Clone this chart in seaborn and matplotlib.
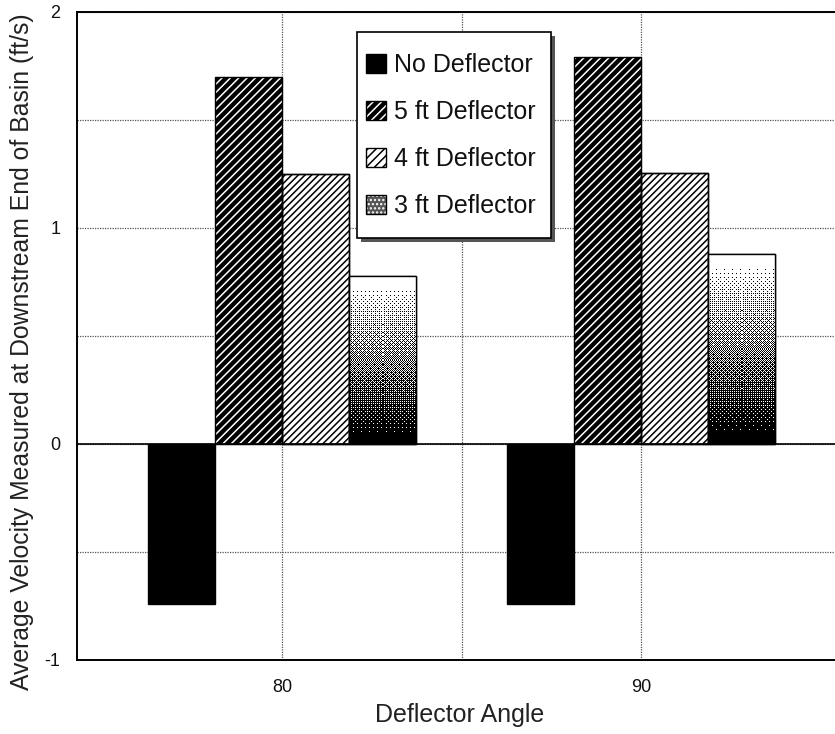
import numpy as np
import pandas as pd
import matplotlib
matplotlib.use("Agg")
import matplotlib.pyplot as plt
from matplotlib.patches import Patch, Rectangle
from matplotlib.transforms import IdentityTransform
import seaborn as sns

# ---- data ----
angles = ["80", "90"]
deflectors = ["No Deflector", "5 ft Deflector", "4 ft Deflector", "3 ft Deflector"]
no_deflector = [-0.74, -0.74]
ft5 = [1.70, 1.79]
ft4 = [1.25, 1.255]
ft3 = [0.78, 0.88]

df = pd.DataFrame({
    "angle": angles * 4,
    "deflector": [d for d in deflectors for _ in angles],
    "velocity": no_deflector + ft5 + ft4 + ft3,
})

sns.set_theme(style="white")
plt.rcParams["font.family"] = ["Liberation Sans", "DejaVu Sans"]
plt.rcParams["hatch.linewidth"] = 1.1

fig = plt.figure(figsize=(8.35, 7.34), dpi=100)
ax = fig.add_axes([77 / 835, (734 - 660) / 734, 769 / 835, 648 / 734])

palette = {"No Deflector": "black", "5 ft Deflector": "black",
           "4 ft Deflector": "white", "3 ft Deflector": "white"}
sns.barplot(data=df, x="angle", y="velocity", hue="deflector", hue_order=deflectors,
            order=angles, palette=palette, width=0.747, gap=0, dodge=True,
            edgecolor="black", linewidth=1.0, legend=False, errorbar=None, ax=ax)

XLIM = (-0.571, 1.571)
YLIM = (-1, 2)
ax.set_xlim(*XLIM)
ax.set_ylim(*YLIM)

def outline(p):
    r = Rectangle((p.get_x(), p.get_y()), p.get_width(), p.get_height(),
                  fill=False, edgecolor="black", linewidth=1.0, zorder=p.get_zorder() + 0.5)
    ax.add_patch(r)

for p in ax.containers[1]:
    p.set_hatch("////")
    p.set_edgecolor("white")
    p.set_linewidth(0)
    outline(p)
for p in ax.containers[2]:
    p.set_hatch("/////")
    p.set_edgecolor("black")
    p.set_facecolor("white")
    outline(p)

# 3 ft: dithered gradient texture (pixel aligned)
fig.canvas.draw()
b8 = np.array([[0, 32, 8, 40, 2, 34, 10, 42],
               [48, 16, 56, 24, 50, 18, 58, 26],
               [12, 44, 4, 36, 14, 46, 6, 38],
               [60, 28, 52, 20, 62, 30, 54, 22],
               [3, 35, 11, 43, 1, 33, 9, 41],
               [51, 19, 59, 27, 49, 17, 57, 25],
               [15, 47, 7, 39, 13, 45, 5, 37],
               [63, 31, 55, 23, 61, 29, 53, 21]]) / 64.0
for p in ax.containers[3]:
    bb = p.get_window_extent()
    nr = max(int(round(bb.height)), 8)
    nc = max(int(round(bb.width)), 8)
    t = np.linspace(0, 1, nr)[:, None]
    dark = np.clip((t - 0.06) / 0.9, 0, 1)
    thr = np.tile(b8, (nr // 8 + 1, nc // 8 + 1))[:nr, :nc]
    img = np.where(dark > thr, 0.0, 1.0)
    x0, y0, w, h = p.get_x(), p.get_y(), p.get_width(), p.get_height()
    im = ax.imshow(img, cmap="gray", vmin=0, vmax=1, extent=(x0, x0 + w, y0, y0 + h),
                   origin="upper", interpolation="nearest", aspect="auto",
                   zorder=p.get_zorder() + 0.1)
    im.set_clip_path(p)
    outline(p)

ax.set_xlim(*XLIM)
ax.set_ylim(*YLIM)
ax.set_aspect("auto")

ax.axhline(0, color="black", linewidth=1.2, zorder=5)

ax.set_xticks([0, 1])
ax.set_xticklabels(angles)
ax.set_xticks([0.5], minor=True)
ax.set_yticks([-1, 0, 1, 2])
ax.set_yticklabels(["-1", "0", "1", "2"])
ax.set_yticks([-0.5, 0.5, 1.5], minor=True)
ax.tick_params(axis="both", which="major", direction="in", length=7, width=1.5,
               color="black", labelsize=13, labelcolor="#111")
ax.tick_params(axis="x", which="major", pad=14)
ax.tick_params(axis="y", which="major", pad=12)
ax.tick_params(which="minor", length=0)
ax.set_axisbelow(True)
ax.grid(True, which="both", color="#555555", linestyle=(0, (1, 1)), linewidth=0.9)

for s in ax.spines.values():
    s.set_visible(True)
    s.set_color("black")
    s.set_linewidth(1.4)

ax.set_xlabel("Deflector Angle", fontsize=18, color="#222")
ax.set_ylabel("Average Velocity Measured at Downstream End of Basin (ft/s)", fontsize=17.8, color="#222")
ax.xaxis.set_label_coords(0.498, -0.067)
ax.yaxis.set_label_coords(-0.056, 0.476)

# legend
handles = [
    Patch(facecolor="black", edgecolor="black"),
    (Patch(facecolor="black", edgecolor="white", hatch="////", linewidth=0),
     Patch(fill=False, edgecolor="black")),
    (Patch(facecolor="white", edgecolor="black", hatch="////", linewidth=0),
     Patch(fill=False, edgecolor="black")),
    (Patch(facecolor="#555555", edgecolor="white", hatch="....", linewidth=0),
     Patch(fill=False, edgecolor="black")),
]
leg = ax.legend(handles, deflectors, loc="upper left",
                bbox_to_anchor=((366 - 77) / 769, (660 - 53) / 648),
                borderaxespad=0, frameon=False,
                fontsize=18, labelspacing=0.92, handlelength=0.8, handleheight=0.8,
                handletextpad=0.3, borderpad=0.0)
for t in leg.get_texts():
    t.set_color("#111")
leg.set_zorder(12)

# legend frame with drop shadow around the legend entries
fig.canvas.draw()
lb = leg.get_window_extent()
fx0, fx1 = lb.x0 - 9, lb.x1 + 16
fy0, fy1 = lb.y0 - 20, lb.y1 + 21
shadow = Rectangle((fx0 + 4, fy0 - 4), fx1 - fx0, fy1 - fy0, transform=IdentityTransform(),
                   facecolor="#555555", edgecolor="none", zorder=10, clip_on=False)
frame = Rectangle((fx0, fy0), fx1 - fx0, fy1 - fy0, transform=IdentityTransform(),
                  facecolor="white", edgecolor="black", linewidth=1.2, zorder=11, clip_on=False)
ax.add_artist(shadow)
ax.add_artist(frame)

fig.savefig("out.png", dpi=100)
